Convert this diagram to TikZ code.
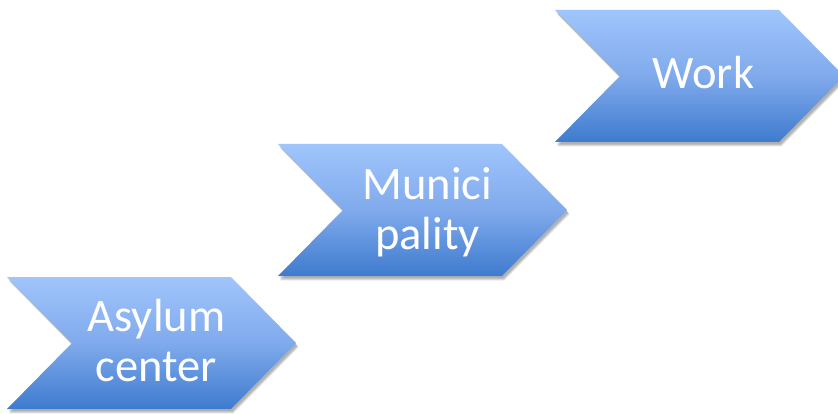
\documentclass[tikz,border=0pt]{standalone}
\usepackage{fontspec}
\setmainfont{Carlito}
\begin{document}
\begin{tikzpicture}[x=1pt,y=1pt,
  chevfill/.style={top color=chevtop, bottom color=chevbot, middle color=chevmid, shading=axis, draw=none},
  chevshadow/.style={fill=black, fill opacity=0.07, draw=none},
  lbl/.style={text=white, font=\fontsize{46.5}{50}\selectfont, align=center, inner sep=0pt}
]
\definecolor{chevtop}{RGB}{160,197,252}
\definecolor{chevmid}{RGB}{128,170,236}
\definecolor{chevbot}{RGB}{62,123,206}
\useasboundingbox (0,0) rectangle (838,413);
\foreach \L/\T in {7/136, 278/269, 555/403}{
  \foreach \s in {1,2,3,4,5}{
    \fill[chevshadow] ([shift={(1+0.3*\s,-1.5-0.6*\s)}]\L,\T) -- ++(224,0) -- ++(65,-66) -- ++(-65,-66) -- ++(-224,0) -- ++(65,66) -- cycle;
  }
  \path[chevfill] (\L,\T) -- ++(224,0) -- ++(65,-66) -- ++(-65,-66) -- ++(-224,0) -- ++(65,66) -- cycle;
}
\node[lbl, anchor=base] (asylum) at (156.5,32) {Asylum\\center};
\node[lbl, anchor=base] (muni) at (427.5,163.5) {Munici\\pality};
\node[lbl, anchor=base] (work) at (703.5,324) {Work};
\end{tikzpicture}
\end{document}
